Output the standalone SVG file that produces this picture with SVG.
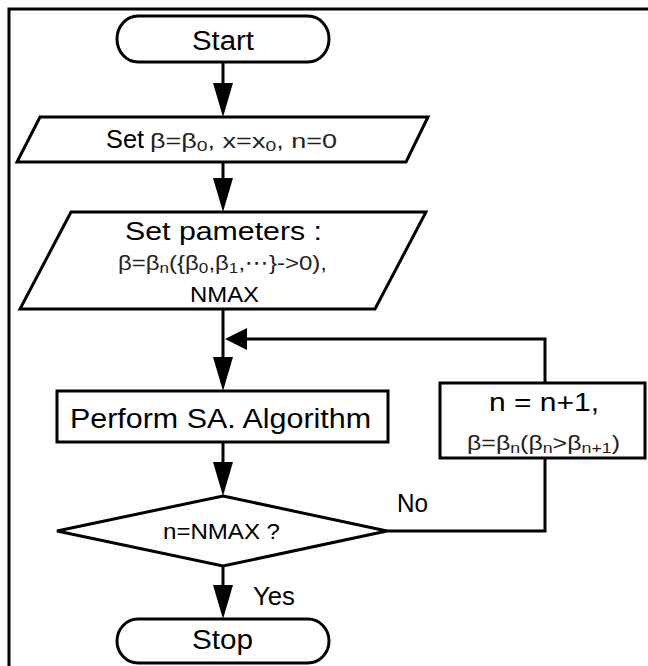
<svg xmlns="http://www.w3.org/2000/svg" width="648" height="666" viewBox="0 0 648 666">
<defs>
<style>
.s{fill:#fff;stroke:#000;stroke-width:3;stroke-linejoin:miter}
.c{fill:none;stroke:#000;stroke-width:3}
.t{font-family:"Liberation Sans",Arial,sans-serif;fill:#000}
.g{font-family:"Liberation Sans","DejaVu Sans",Arial,sans-serif;fill:#222}
</style>
<marker id="ad" markerUnits="userSpaceOnUse" markerWidth="34" markerHeight="20" refX="24" refY="10" orient="auto" viewBox="0 0 34 20">
<path d="M0,0 L34,10 L0,20 Z" fill="#000"/>
</marker>
<marker id="al" markerUnits="userSpaceOnUse" markerWidth="22" markerHeight="22" refX="14" refY="11" orient="auto" viewBox="0 0 22 22">
<path d="M0,0 L22,11 L0,22 Z" fill="#000"/>
</marker>
</defs>
<rect width="648" height="666" fill="#fff"/>
<path d="M9,666 V9 H648" fill="none" stroke="#000" stroke-width="3"/>

<g id="connectors">
<path class="c" d="M223,62 V107" marker-end="url(#ad)"/>
<path class="c" d="M223,162 V202" marker-end="url(#ad)"/>
<path class="c" d="M223,309 V381" marker-end="url(#ad)"/>
<path class="c" d="M223,442 V486" marker-end="url(#ad)"/>
<path class="c" d="M223,566 V609" marker-end="url(#ad)"/>
<path class="c" d="M387,531 H545 V458"/>
<path class="c" d="M545,383 V339 H233" marker-end="url(#al)"/>
<text class="t" x="397" y="512" font-size="25" textLength="31" lengthAdjust="spacingAndGlyphs">No</text>
<text class="t" x="253" y="605" font-size="25" textLength="42" lengthAdjust="spacingAndGlyphs">Yes</text>
</g>

<g id="start">
<rect class="s" x="117" y="16" width="212" height="46" rx="21" ry="23"/>
<text class="t" x="192" y="50" font-size="27" textLength="62" lengthAdjust="spacingAndGlyphs">Start</text>
</g>

<g id="init">
<polygon class="s" points="40,117 428,117 406,162 17,162"/>
<text class="t" x="106" y="148" font-size="26" textLength="38" lengthAdjust="spacingAndGlyphs">Set</text>
<text class="g" x="150" y="148" font-size="21" textLength="187" lengthAdjust="spacingAndGlyphs">β=β<tspan font-size="15" dy="3">0</tspan><tspan dy="-3">, x=x</tspan><tspan font-size="15" dy="3">0</tspan><tspan dy="-3">,  n=0</tspan></text>
</g>

<g id="params">
<polygon class="s" points="71,212 426,212 375,309 20,309"/>
<text class="t" x="125" y="240" font-size="26" textLength="197" lengthAdjust="spacingAndGlyphs">Set pameters :</text>
<text class="g" x="118" y="270" font-size="21" textLength="209" lengthAdjust="spacingAndGlyphs">β=β<tspan font-size="15" dy="3">n</tspan><tspan dy="-3">({β</tspan><tspan font-size="15" dy="3">0</tspan><tspan dy="-3">,β</tspan><tspan font-size="15" dy="3">1</tspan><tspan dy="-3">,⋯}-&gt;0),</tspan></text>
<text class="t" x="190" y="302" font-size="22" textLength="69" lengthAdjust="spacingAndGlyphs">NMAX</text>
</g>

<g id="perform">
<rect class="s" x="57" y="391" width="331" height="51"/>
<text class="t" x="70" y="428" font-size="27" textLength="301" lengthAdjust="spacingAndGlyphs">Perform SA. Algorithm</text>
</g>

<g id="update">
<rect class="s" x="440" y="383" width="205" height="75"/>
<text class="t" x="489" y="411" font-size="26" textLength="110" lengthAdjust="spacingAndGlyphs">n = n+1,</text>
<text class="g" x="467" y="450" font-size="21" textLength="153" lengthAdjust="spacingAndGlyphs">β=β<tspan font-size="15" dy="3">n</tspan><tspan dy="-3">(β</tspan><tspan font-size="15" dy="3">n</tspan><tspan dy="-3">&gt;β</tspan><tspan font-size="15" dy="3">n+1</tspan><tspan dy="-3">)</tspan></text>
</g>

<g id="decision">
<polygon class="s" points="223,496 387,531 223,566 57,531"/>
<text class="t" x="163" y="539" font-size="22" textLength="117" lengthAdjust="spacingAndGlyphs">n=NMAX ?</text>
</g>

<g id="stop">
<rect class="s" x="117" y="619" width="212" height="44" rx="21" ry="22"/>
<text class="t" x="192" y="649" font-size="27" textLength="61" lengthAdjust="spacingAndGlyphs">Stop</text>
</g>
</svg>
